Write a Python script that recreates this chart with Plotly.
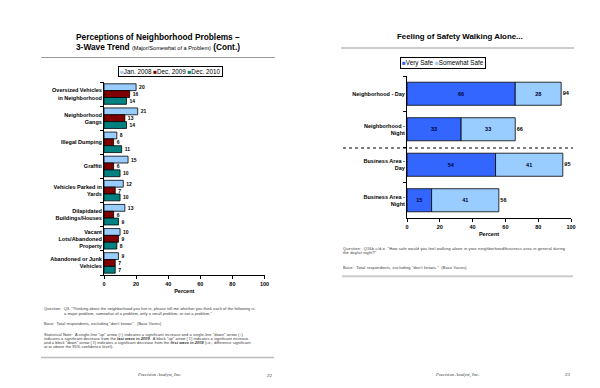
import plotly.graph_objects as go

W, H = 600, 388

# ---------------- data ----------------
problem_categories = [
    "Oversized Vehicles in Neighborhood", "Neighborhood Gangs", "Illegal Dumping",
    "Graffiti", "Vehicles Parked in Yards", "Dilapidated Buildings/Houses",
    "Vacant Lots/Abandoned Property", "Abandoned or Junk Vehicles",
]
problem_tick_labels = [
    "Oversized Vehicles<br>in Neighborhood", "Neighborhood<br>Gangs", "Illegal Dumping",
    "Graffiti", "Vehicles Parked in<br>Yards", "Dilapidated<br>Buildings/Houses",
    "Vacant<br>Lots/Abandoned<br>Property", "Abandoned or Junk<br>Vehicles",
]
wave_names = ["Jan. 2008", "Dec. 2009", "Dec. 2010"]
jan_2008 = [20, 21, 8, 15, 12, 13, 10, 9]
dec_2009 = [16, 13, 6, 6, 7, 6, 9, 7]
dec_2010 = [14, 14, 11, 10, 10, 9, 8, 7]

safety_categories = ["Neighborhood - Day", "Neighborhood - Night",
                     "Business Area - Day", "Business Area - Night"]
safety_tick_labels = ["Neighborhood - Day", "Neighborhood -<br>Night",
                      "Business Area -<br>Day", "Business Area -<br>Night"]
safety_series_names = ["Very Safe", "Somewhat Safe"]
very_safe = [66, 33, 54, 15]
somewhat_safe = [28, 33, 41, 41]

percent_ticks = [0, 20, 40, 60, 80, 100]

# ---------------- styling ----------------
FONT = "Liberation Sans, Arial, sans-serif"
SERIF = "Liberation Serif, Times New Roman, serif"
wave_colors = ["#99CCFF", "#800000", "#008080"]
safety_colors = ["#3366FF", "#99CCFF"]


def px(x):
    return x / W


def py(y):
    return 1 - y / H


fig = go.Figure()

# left chart: grouped bars
for name, vals, col in zip(wave_names, [jan_2008, dec_2009, dec_2010], wave_colors):
    fig.add_trace(go.Bar(
        x=vals, y=problem_categories, orientation="h", name=name,
        marker=dict(color=col, line=dict(color="black", width=0.8)),
        text=vals, textposition="outside", constraintext="none", cliponaxis=False,
        textfont=dict(family=FONT, size=5, color="black", weight="bold"),
        xaxis="x", yaxis="y", showlegend=False,
    ))

# right chart: stacked bars
fig.add_trace(go.Bar(
    x=very_safe, y=safety_categories, orientation="h", name=safety_series_names[0],
    marker=dict(color=safety_colors[0], line=dict(color="black", width=0.8)),
    text=very_safe, textposition="inside", insidetextanchor="middle",
    constraintext="none",
    textfont=dict(family=FONT, size=5.5, color="#000033", weight="bold"),
    width=0.65, offset=-0.325, offsetgroup="safe",
    xaxis="x2", yaxis="y2", showlegend=False,
))
fig.add_trace(go.Bar(
    x=somewhat_safe, y=safety_categories, base=very_safe, orientation="h",
    name=safety_series_names[1],
    marker=dict(color=safety_colors[1], line=dict(color="black", width=0.8)),
    text=somewhat_safe, textposition="inside", insidetextanchor="middle",
    constraintext="none",
    textfont=dict(family=FONT, size=5.5, color="#000033", weight="bold"),
    width=0.65, offset=-0.325, offsetgroup="safe",
    xaxis="x2", yaxis="y2", showlegend=False,
))
totals = [a + b for a, b in zip(very_safe, somewhat_safe)]
fig.add_trace(go.Scatter(
    x=totals, y=safety_categories, mode="text", text=totals,
    texttemplate=" %{text}",
    textposition="middle right", cliponaxis=False,
    textfont=dict(family=FONT, size=5.5, color="black", weight="bold"),
    xaxis="x2", yaxis="y2", showlegend=False, hoverinfo="skip",
))

axis_common = dict(showline=True, linecolor="black", linewidth=1, ticks="outside",
                   ticklen=3, tickcolor="black", showgrid=False, zeroline=False,
                   automargin=False)
xtickfont = dict(family=FONT, size=5.5, color="black", weight="bold")
ytickfont = dict(family=FONT, size=5.5, color="black", weight="bold")

fig.update_layout(
    width=W, height=H, margin=dict(l=0, r=0, t=0, b=0),
    paper_bgcolor="white", plot_bgcolor="white",
    barmode="group", bargap=0.15, bargroupgap=0,
    font=dict(family=FONT, color="black"),
    xaxis=dict(domain=[px(96), px(256.5)], range=[0, 100], tickvals=percent_ticks,
               anchor="y", tickfont=xtickfont,
               title=dict(text="Percent", standoff=3,
                          font=dict(family=FONT, size=5.5, color="black", weight="bold")),
               **axis_common),
    yaxis=dict(domain=[py(267), py(74)], type="category", autorange="reversed",
               categoryorder="array", categoryarray=problem_categories,
               tickvals=problem_categories, ticktext=problem_tick_labels,
               tickson="boundaries", anchor="x", tickfont=ytickfont, **axis_common),
    xaxis2=dict(domain=[px(399), px(563)], range=[0, 100], tickvals=percent_ticks,
                anchor="y2", tickfont=xtickfont,
                title=dict(text="Percent", standoff=3,
                           font=dict(family=FONT, size=5.5, color="black", weight="bold")),
                **axis_common),
    yaxis2=dict(domain=[py(210), py(68)], type="category", autorange="reversed",
                categoryorder="array", categoryarray=safety_categories,
                tickvals=safety_categories, ticktext=safety_tick_labels,
                tickson="boundaries", anchor="x2", tickfont=ytickfont, **axis_common),
)

# ---------------- decorations ----------------
shapes = [
    dict(type="line", xref="paper", yref="paper", x0=px(33), x1=px(267), y0=py(49.5), y1=py(49.5),
         line=dict(color="#9a9a9a", width=1)),
    dict(type="line", xref="paper", yref="paper", x0=px(33), x1=px(266), y0=py(349.5), y1=py(349.5),
         line=dict(color="#bbbbbb", width=1.5)),
    dict(type="line", xref="paper", yref="paper", x0=px(333), x1=px(566), y0=py(40), y1=py(40),
         line=dict(color="#9a9a9a", width=1)),
    dict(type="line", xref="paper", yref="paper", x0=px(334), x1=px(565), y0=py(268.3), y1=py(268.3),
         line=dict(color="#cccccc", width=2)),
    dict(type="line", xref="paper", yref="paper", x0=px(335), x1=px(565), y0=py(140), y1=py(140),
         line=dict(color="black", width=1, dash="dot")),
]
fig.update_layout(shapes=shapes)


def ann(text, x, y, size, xanchor="center", family=FONT, color="black", **kw):
    fig.add_annotation(text=text, x=px(x), y=py(y), xref="paper", yref="paper",
                       xanchor=xanchor, yanchor="middle", showarrow=False,
                       font=dict(family=family, size=size, color=color), **kw)


# titles
ann("<b>Perceptions of Neighborhood Problems –</b>", 149.5, 29, 8.3)
ann("<b>3-Wave Trend </b><span style='font-size:5.6px'>(Major/Somewhat of a Problem)</span><b> (Cont.)</b>",
    150, 38.7, 8.3)
ann("<b>Feeling of Safety Walking Alone...</b>", 452, 29, 7.9)

# legends
left_leg = " ".join(f"<span style='color:{c}'>■</span>{n}" for n, c in zip(wave_names, wave_colors))
ann(left_leg, 162, 64, 6.3, bordercolor="black", borderwidth=1, borderpad=1)
right_leg = " ".join(f"<span style='color:{c}'>■</span>{n}" for n, c in zip(safety_series_names, safety_colors))
ann(right_leg, 435, 55, 6.3, bordercolor="black", borderwidth=1, borderpad=1)

# notes
body = 3.9
gray = "#333333"


def note(text, x, y, spacing=0.14):
    ann(f"<span style='letter-spacing:{spacing}px'>{text}</span>", x, y, body,
        xanchor="left", color=gray)


note('Question:  Q3. "Thinking about the neighborhood you live in, please tell me whether you think each of the following is',
     33.5, 300.5, 0.08)
note('a major problem, somewhat of a problem, only a small problem, or not a problem."',
     54, 305, 0.08)
note('Base:  Total respondents, excluding "don\'t knows".  (Base Varies)', 33.5, 315, 0.08)
note('Statistical Note:  A single-line "up" arrow (↑) indicates a significant increase and a single-line "down" arrow (↓)',
     33.5, 326, 0.1)
note('indicates a significant decrease from the <b><i>last wave in 2009</i></b>.  A block "up" arrow (⇧) indicates a significant increase',
     33.5, 330, 0.06)
note('and a block "down" arrow (⇩) indicates a significant decrease from the <b><i>first wave in 2008</i></b> (i.e., difference significant',
     33.5, 334, 0.06)
note('at or above the 95% confidence level).', 33.5, 338, 0.08)

note('Question:  Q16b-c/d-e. "How safe would you feel walking alone in your neighborhood/business area in general during',
     332.5, 240, 0.18)
note('the day/at night?"', 332.5, 244, 0.18)
note('Base:  Total respondents, excluding "don\'t knows."  (Base Varies)', 332.5, 259, 0.18)

# footers
ann("<i>Precision Analyst, Inc.</i>", 150.5, 367.3, 4.8, family=SERIF, color="#333333")
ann("22", 261.7, 367.3, 5, family=SERIF, color="#333333")
ann("<i>Precision Analyst, Inc.</i>", 449.3, 366.7, 4.8, family=SERIF, color="#333333")
ann("23", 560, 366.7, 5, family=SERIF, color="#333333")

fig.write_html("out.html")
